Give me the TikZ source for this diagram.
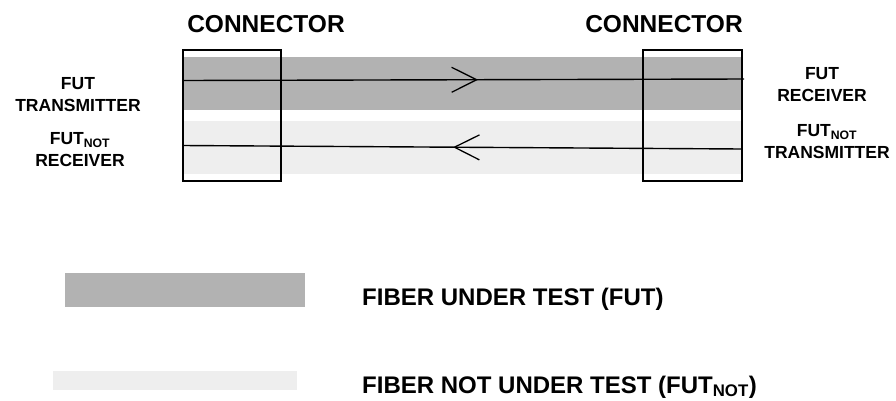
\documentclass[tikz,border=0pt]{standalone}
\usepackage{fontspec}
\setmainfont{Liberation Sans}
\usetikzlibrary{arrows.meta,positioning,decorations.markings}
\definecolor{futgray}{HTML}{B2B2B2}
\definecolor{notgray}{HTML}{EEEEEE}

\begin{document}
\begin{tikzpicture}[
  x=1pt, y=-1pt,
  font=\bfseries,
  band/.style={
    draw=none,
    inner sep=0pt,
    outer sep=0pt
  },
  connbox/.style={
    draw=black,
    line width=1.1pt,
    inner sep=0pt,
    outer sep=0pt
  },
  title/.style={font=\fontsize{24.5}{29}\selectfont\bfseries, inner sep=0pt, anchor=base},
  endlabel/.style={align=center, font=\fontsize{17.5}{22}\selectfont\bfseries, inner sep=0pt},
  legendtext/.style={font=\fontsize{24}{28}\selectfont\bfseries, inner sep=0pt, anchor=base west},
  fiber/.style={line width=1.4pt},
  chevron/.style={
    postaction={decorate},
    decoration={markings, mark=at position #1 with {\arrow{Straight Barb[length=25pt,width=25pt,line width=1.3pt]}}}
  }
]
  \useasboundingbox (0,0) rectangle (896,400);

  % Fiber bands
  \node[band, fill=futgray, minimum width=559pt, minimum height=53pt, anchor=north west] (futband) at (183,57) {};
  \node[band, fill=notgray, minimum width=559pt, minimum height=53pt, anchor=north west] (notband) at (183,121) {};

  % Connectors
  \node[connbox, minimum width=98pt, minimum height=131pt, anchor=north west] (connL) at (183,50) {};
  \node[connbox, minimum width=99pt, minimum height=131pt, anchor=north west] (connR) at (643,50) {};
  \node[title] (connLtitle) at (266,32) {CONNECTOR};
  \node[title] (connRtitle) at (664,32) {CONNECTOR};

  % Transmitter / receiver ends
  \node[endlabel] (futtx) at (78,94.5) {FUT\\TRANSMITTER};
  \node[endlabel] (notrx) at (80,149.5) {FUT\textsubscript{NOT}\\RECEIVER};
  \node[endlabel] (futrx) at (822,85) {FUT\\RECEIVER};
  \node[endlabel] (nottx) at (827,141.5) {FUT\textsubscript{NOT}\\TRANSMITTER};

  \coordinate (futin)  at (connL.west |- 0,80.5);
  \coordinate (futout) at (744,79);
  \coordinate (notin)  at (connR.east |- 0,149);
  \coordinate (notout) at (connL.west |- 0,145.5);

  % Fibers with direction marks
  \draw[fiber, chevron=0.526] (futin) -- (futout);
  \draw[fiber, chevron=0.517] (notin) -- (notout);

  % Legend
  \node[band, fill=futgray, minimum width=240pt, minimum height=34pt, anchor=north west] (keyfut) at (65,273) {};
  \node[band, fill=notgray, minimum width=244pt, minimum height=19pt, anchor=north west] (keynot) at (53,371) {};
  \node[legendtext] (keyfuttext) at (362,305) {FIBER UNDER TEST (FUT)};
  \node[legendtext] (keynottext) at (362,393) {FIBER NOT UNDER TEST (FUT\textsubscript{NOT})};

\end{tikzpicture}
\end{document}
